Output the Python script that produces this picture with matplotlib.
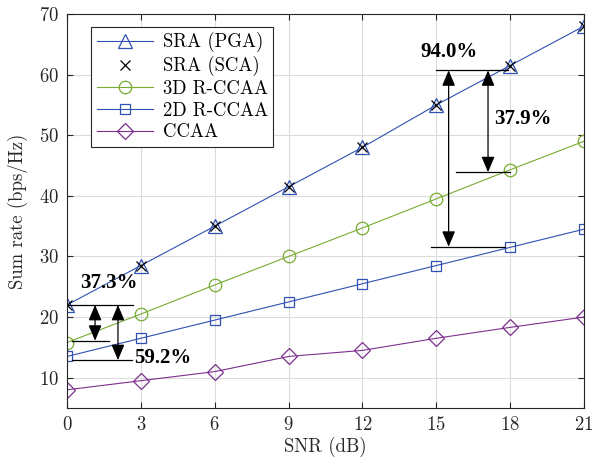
import matplotlib
matplotlib.use("Agg")
import matplotlib.pyplot as plt

snr = [0, 3, 6, 9, 12, 15, 18, 21]
sra_pga = [22.0, 28.5, 35.0, 41.5, 48.0, 55.0, 61.5, 68.0]
sra_sca = [22.0, 28.5, 35.0, 41.5, 48.0, 55.0, 61.5, 68.0]
r3d = [15.8, 20.5, 25.3, 30.0, 34.7, 39.5, 44.3, 49.0]
r2d = [13.5, 16.5, 19.5, 22.5, 25.5, 28.5, 31.5, 34.5]
ccaa = [8.0, 9.5, 11.0, 13.5, 14.5, 16.5, 18.3, 20.0]
labels = ["SRA (PGA)", "SRA (SCA)", "3D R-CCAA", "2D R-CCAA", "CCAA"]

plt.rcParams['font.family'] = ['cmr10', 'DejaVu Serif']
plt.rcParams['axes.formatter.use_mathtext'] = True
plt.rcParams['mathtext.fontset'] = 'cm'

fig = plt.figure(figsize=(5.95, 4.66), dpi=100)
ax = fig.add_axes([0.1126, 0.1245, 0.869, 0.8455])

blue = '#3050b4'
green = '#77ac30'
purple = '#7e2f8e'

ax.plot(snr, sra_pga, color=blue, lw=0.8, marker='^', ms=10, mfc='none', mec=blue, mew=0.9, label=labels[0])
ax.plot(snr, sra_sca, color='black', lw=0, marker='x', ms=7, mew=0.9, label=labels[1])
ax.plot(snr, r3d, color=green, lw=0.8, marker='o', ms=9, mfc='none', mec=green, mew=0.9, label=labels[2])
ax.plot(snr, r2d, color=blue, lw=0.8, marker='s', ms=7, mfc='none', mec=blue, mew=0.9, label=labels[3])
ax.plot(snr, ccaa, color=purple, lw=0.8, marker='D', ms=8.5, mfc='none', mec=purple, mew=0.9, label=labels[4])

ax.set_xlim(0, 21)
ax.set_ylim(5, 70)
ax.set_xticks(snr)
ax.set_yticks([10, 20, 30, 40, 50, 60, 70])
ax.grid(True, color='#dcdcdc', lw=0.8)
ax.set_axisbelow(True)
ax.tick_params(direction='in', top=True, right=True, labelsize=13.5, length=4, width=0.8,
               colors='#262626', labelcolor='#262626', pad=6)
for s in ax.spines.values():
    s.set_color('#262626')
    s.set_linewidth(0.8)
ax.set_xlabel('SNR (dB)', fontsize=13.5, color='#262626', labelpad=2)
ax.set_ylabel('Sum rate (bps/Hz)', fontsize=13.5, color='#262626', labelpad=8)

leg = ax.legend(loc='upper left', bbox_to_anchor=(0.047, 0.968), fontsize=13.5, frameon=True,
                fancybox=False, edgecolor='#262626', framealpha=1, handlelength=3.0,
                borderpad=0.3, labelspacing=0.2, handletextpad=0.5, borderaxespad=0)
leg.get_frame().set_linewidth(0.8)

bold = dict(fontsize=15, fontweight='bold', family='Liberation Serif', ha='center', va='center')
aprops = dict(arrowstyle='<|-|>,head_length=0.95,head_width=0.4', color='black', lw=0.9,
              shrinkA=0, shrinkB=0, mutation_scale=10)

# right annotations
ax.plot([15.0, 17.9], [60.7, 60.7], color='black', lw=0.9)
ax.plot([15.8, 18.0], [43.9, 43.9], color='black', lw=0.9)
ax.plot([14.8, 17.8], [31.6, 31.6], color='black', lw=0.9)
ax.annotate('', xy=(15.5, 31.6), xytext=(15.5, 60.7), arrowprops=aprops)
ax.annotate('', xy=(17.1, 43.9), xytext=(17.1, 60.7), arrowprops=aprops)
ax.text(15.5, 63.8, '94.0%', **bold)
ax.text(18.5, 52.7, '37.9%', **bold)

# left annotations
ax.plot([0, 2.7], [22.0, 22.0], color='black', lw=0.9)
ax.plot([0.2, 1.7], [16.1, 16.1], color='black', lw=0.9)
ax.plot([0.2, 2.65], [12.9, 12.9], color='black', lw=0.9)
ax.annotate('', xy=(1.14, 16.1), xytext=(1.14, 22.0), arrowprops=aprops)
ax.annotate('', xy=(2.07, 12.9), xytext=(2.07, 22.0), arrowprops=aprops)
ax.text(1.7, 25.7, '37.3%', **bold)
ax.text(3.9, 13.2, '59.2%', **bold)

fig.savefig('out.png', dpi=100)
